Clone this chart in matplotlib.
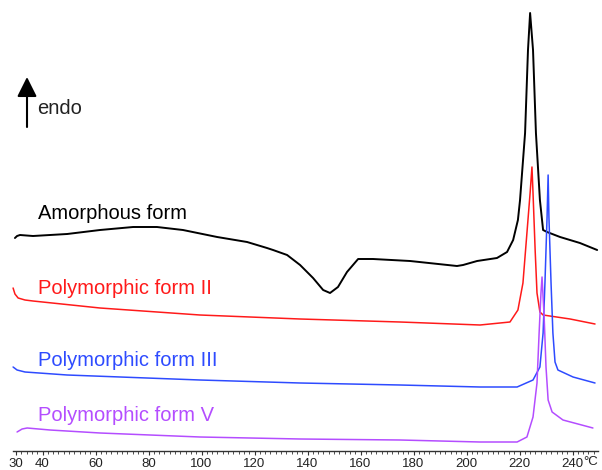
import matplotlib
matplotlib.use("Agg")
import matplotlib.pyplot as plt
from matplotlib.ticker import FixedLocator

plt.rcParams['font.family'] = ['Liberation Sans', 'DejaVu Sans']

# temperature (°C) and heat flow (arbitrary units, endo up)
amorphous_t = [29.6, 30.4, 31.5, 36.4, 49.3, 61.7, 74.2, 83.2, 93.0, 105.9, 117.2, 124.7,
               127.0, 132.3, 137.2, 142.1, 145.9, 148.5, 151.5, 154.9, 159.1, 164.7, 178.7,
               196.4, 198.7, 204.0, 211.5, 215.3, 217.6, 219.4, 220.2, 222.1, 223.2, 224.0,
               225.1, 226.2, 227.7, 228.9, 230.4, 235.3, 242.8, 249.3]
amorphous_y = [213, 215, 216, 215, 217, 221, 224, 224, 221, 214, 209, 203,
               201, 196, 186, 173, 161, 158, 164, 179, 192, 192, 190,
               185, 186, 190, 193, 199, 211, 231, 251, 318, 401, 438,
               401, 318, 251, 221, 219, 214, 208, 201]

form2_t = [28.9, 29.6, 30.8, 33.4, 36.4, 61.7, 99.4, 137.2, 174.9, 205.1, 216.4, 219.4,
           221.3, 222.8, 224.0, 224.7, 225.1, 225.9, 226.6, 227.7, 228.9, 239.1, 248.5]
form2_y = [163, 157, 153, 151, 150, 143, 136, 132, 129, 126, 129, 141,
           168, 218, 258, 284, 258, 201, 158, 139, 136, 132, 127]

form3_t = [28.9, 30.4, 33.4, 49.3, 99.4, 137.2, 174.9, 205.1, 219.1, 225.1, 227.7, 228.9,
           229.6, 230.4, 230.8, 231.1, 231.9, 232.6, 233.4, 234.5, 240.2, 248.5]
form3_y = [84, 81, 79, 76, 71, 68, 66, 64, 64, 71, 84, 118,
           168, 234, 276, 234, 168, 118, 89, 81, 74, 68]

form5_t = [30.4, 32.3, 34.2, 42.8, 61.7, 99.4, 137.2, 174.9, 205.1, 219.1, 222.8, 225.1,
           226.6, 227.4, 228.1, 228.5, 229.3, 230.0, 230.8, 232.3, 236.4, 247.7]
form5_y = [19, 22, 23, 21, 18, 14, 12, 11, 9, 9, 14, 34,
           68, 118, 158, 174, 134, 84, 51, 39, 31, 23]

tick_values = [30, 40, 60, 80, 100, 120, 140, 160, 180, 200, 220, 240]
minor_ticks = list(range(30, 249, 2))

curves = [
    (amorphous_t, amorphous_y, '#000000', 1.4, 'Amorphous form', 232),
    (form2_t, form2_y, '#ff1a1a', 1.1, 'Polymorphic form II', 157),
    (form3_t, form3_y, '#2e4bff', 1.1, 'Polymorphic form III', 85),
    (form5_t, form5_y, '#b44dff', 1.1, 'Polymorphic form V', 30),
]

fig = plt.figure(figsize=(6.02, 4.70), dpi=100)
ax = fig.add_axes([0, 19 / 470, 1, 451 / 470])

for t, y, color, lw, label, label_y in curves:
    ax.plot(t, y, color=color, lw=lw, clip_on=False,
            solid_joinstyle='round', solid_capstyle='round')
    ax.text(38.3, label_y, label, color=color, fontsize=14.5, ha='left', va='baseline')

# endo arrow
ax.annotate('', xy=(34.15, 374), xytext=(34.15, 324),
            arrowprops=dict(arrowstyle='-|>,head_length=0.6,head_width=0.3',
                            mutation_scale=20, lw=1.5, color='black',
                            shrinkA=0, shrinkB=0))
ax.text(37.9, 337, 'endo', fontsize=14.5, ha='left', va='baseline', color='#222222')

ax.set_xlim(23.96, 251.13)
ax.set_ylim(0, 451)

for side in ['top', 'left', 'right']:
    ax.spines[side].set_visible(False)
ax.spines['bottom'].set_bounds(28.87, 249.6)
ax.spines['bottom'].set_color('#333333')
ax.spines['bottom'].set_linewidth(1.0)

ax.set_yticks([])
ax.xaxis.set_major_locator(FixedLocator(tick_values))
ax.xaxis.set_minor_locator(FixedLocator(minor_ticks))
ax.set_xticklabels([str(v) for v in tick_values])
ax.tick_params(axis='x', which='major', length=3.2, width=0.8, pad=2,
               labelsize=9.5, colors='#333333', labelcolor='#222222')
ax.tick_params(axis='x', which='minor', length=2, width=0.6, colors='#333333')

fig.text(591 / 602, 1 - 462 / 470, '°C', ha='center', va='center',
         fontsize=9.5, color='#222222')

fig.savefig('out.png', dpi=100)
